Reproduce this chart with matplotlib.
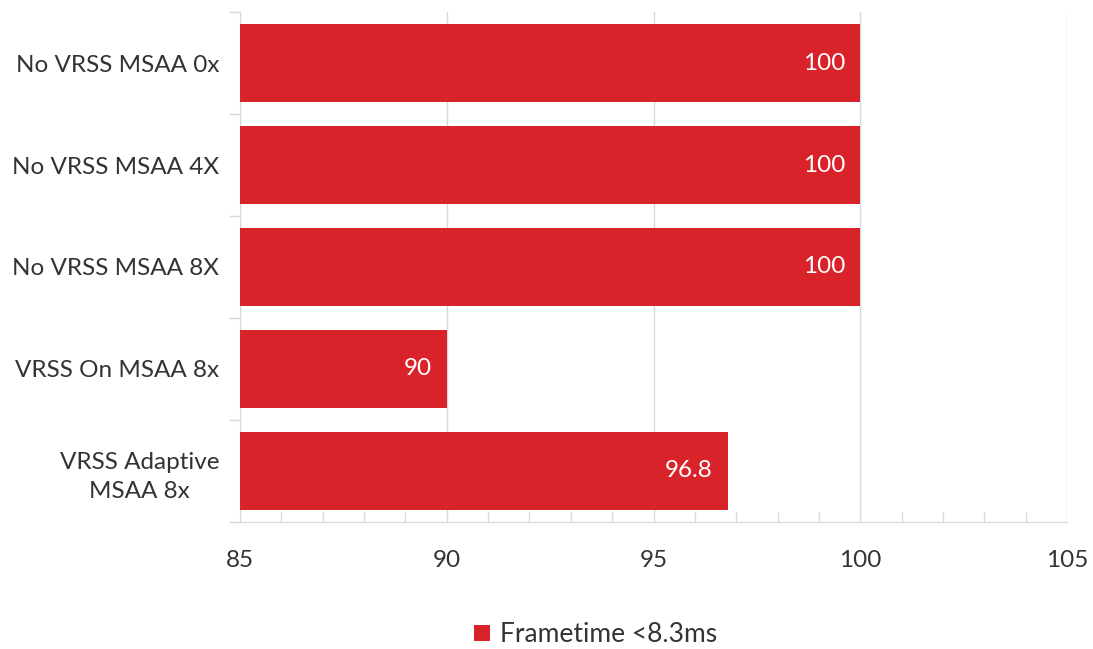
import matplotlib
matplotlib.use("Agg")
import matplotlib.pyplot as plt
from matplotlib.ticker import MultipleLocator, FixedLocator, NullFormatter
from matplotlib.patches import Patch

categories = ["No VRSS MSAA 0x", "No VRSS MSAA 4X", "No VRSS MSAA 8X",
              "VRSS On MSAA 8x", "VRSS Adaptive\nMSAA 8x"]
values = [100, 100, 100, 90, 96.8]
value_labels = ["100", "100", "100", "90", "96.8"]
series_name = "Frametime <8.3ms"

bar_color = "#D9232B"
grid_color = "#D9D9D9"
text_color = "#333333"
fs = 17.5

plt.rcParams['font.family'] = ['Lato', 'DejaVu Sans']

fig = plt.figure(figsize=(10.93, 6.49), dpi=100)
ax = fig.add_axes([0.2196, 0.1957, 0.9762 - 0.2196, 0.9815 - 0.1957])

xmin = 85
ypos = list(range(len(categories)))
bars = ax.barh(ypos, [v - xmin for v in values], left=xmin, height=0.76,
               color=bar_color, zorder=3)

ax.set_xlim(85, 105)
ax.set_ylim(len(categories) - 0.5, -0.5)

ax.xaxis.set_major_locator(MultipleLocator(5))
ax.xaxis.set_minor_locator(MultipleLocator(1))
ax.grid(axis='x', which='major', color=grid_color, linewidth=1.0, zorder=0)
ax.tick_params(axis='x', which='major', length=0, pad=20, labelsize=fs,
               labelcolor=text_color)
ax.tick_params(axis='x', which='minor', direction='in', length=7,
               color=grid_color, width=1.0)

ax.set_yticks(ypos)
ax.set_yticklabels(categories, fontsize=fs, color=text_color,
                   multialignment='center', linespacing=1.45)
ax.yaxis.set_minor_locator(FixedLocator([i - 0.5 for i in range(len(categories) + 1)]))
ax.yaxis.set_minor_formatter(NullFormatter())
ax.tick_params(axis='y', which='major', length=0, pad=15)
ax.tick_params(axis='y', which='minor', length=8, color=grid_color, width=1.0)

for side in ['top', 'right']:
    ax.spines[side].set_visible(False)
ax.spines['left'].set_color(grid_color)
ax.spines['bottom'].set_color(grid_color)

for b, lab in zip(bars, value_labels):
    x_end = b.get_x() + b.get_width()
    ax.annotate(lab, xy=(x_end, b.get_y() + b.get_height() / 2),
                xytext=(-11, 0), textcoords='offset points', ha='right',
                va='center', color='white', fontsize=fs, zorder=4)

handle = Patch(facecolor=bar_color, edgecolor='none')
fig.legend([handle], [series_name], loc='center', bbox_to_anchor=(0.545, 0.022),
           frameon=False, fontsize=19, handlelength=0.6, handleheight=0.6,
           handletextpad=0.4, labelcolor=text_color)

fig.savefig("out.png", dpi=100, facecolor='white')
